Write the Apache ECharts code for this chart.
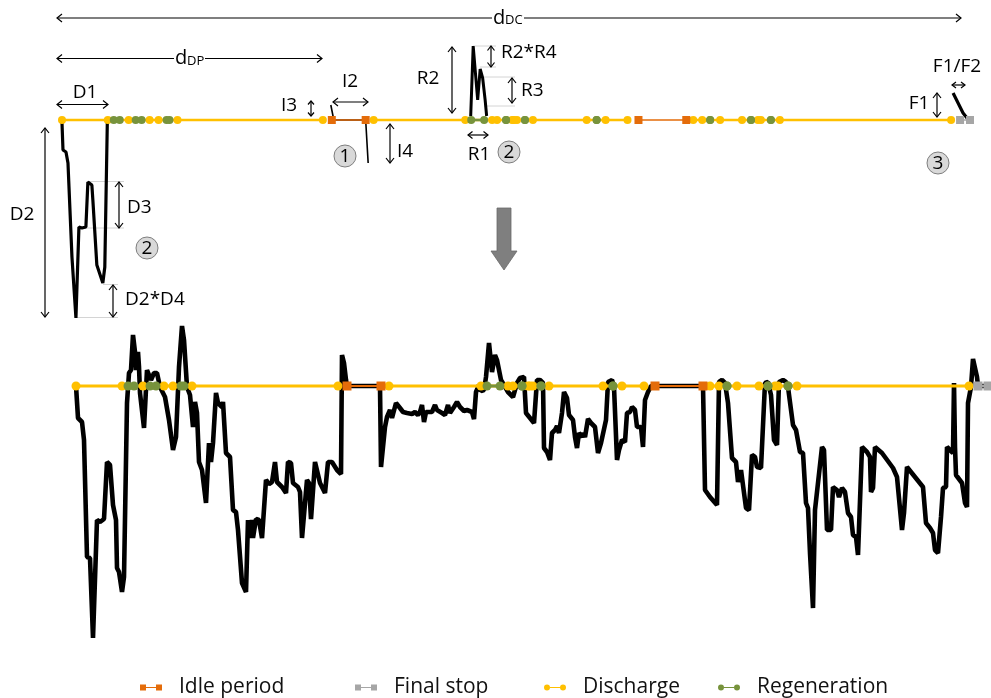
<!DOCTYPE html>
<html>
<head>
<meta charset="utf-8">
<script src="https://cdn.jsdelivr.net/npm/echarts@6/dist/echarts.min.js"></script>
<style>
  html, body { margin: 0; padding: 0; background: #fff; }
  #chart { width: 991px; height: 698px; }
</style>
</head>
<body>
<div id="chart"></div>
<script>
// ---- Drive-cycle phases on the shared time axis (time steps) ----
const dischargePoints = [0, 46, 67, 88, 97, 116, 262, 313, 405, 432, 437, 452, 454, 457, 473,
  527, 546, 568, 634, 643, 661, 683, 699, 702, 721, 893];
const regenerationSegments = [[52, 58], [74, 80], [105, 108], [411, 424], [446, 446], [465, 465],
  [537, 537], [651, 651], [692, 692], [712, 712]];
const idleSegments = [[271, 305], [579, 627]];
const finalStopSegments = [[902, 912]];

// ---- Schematic shapes of each phase type (upper panel) ----
const schemeDischarge = [[0, 0], [0, -3], [1, -30], [4, -32], [6, -43], [10, -137], [11, -137],
  [14, -198], [17, -107], [20, -108], [24, -107], [26, -62], [30, -65], [31, -80], [35, -145],
  [37, -147], [41, -163], [43, -147], [45.5, -3], [46, 0]];
const schemeIdle = [[270, 15], [273, 0], [305, 0], [307.5, -43]];
const schemeRegeneration = [[410.5, 4], [413, 74], [417.5, 20], [420, 51], [422.5, 42], [425, 20], [426.5, 4]];
const schemeFinalStop = [[895, 27], [905, 7], [909, 2], [912, 0]];

// ---- Measured current profile (lower panel) ----
const currentProfile = [
  [0, 0], [2, -32], [6, -36], [8, -54], [11, -171], [14, -172], [17, -252], [21, -134], [24, -136],
  [28, -133], [31, -76], [34, -79], [37, -119], [40, -134], [41, -182], [43, -186], [46, -206],
  [48, -191], [51, -17], [53, 13], [55, 16], [57, 51], [59, 34], [60, 16], [62, 34], [63, 19],
  [64, -7], [68, -42], [71, 16], [73, 17], [75, 6], [78, 13], [81, 13], [84, -1], [89, -11],
  [93, -34], [97, -64], [100, -51], [103, 19], [106, 60], [108, 46], [111, -1], [114, -9],
  [117, -41], [119, -16], [121, -27], [123, -76], [126, -84], [128, -86], [130, -117], [133, -57],
  [135, -76], [137, -57], [140, -7], [142, -17], [146, -21], [147, -16], [150, -67], [152, -67],
  [154, -71], [157, -124], [160, -126], [162, -144], [164, -146], [166, -197], [170, -206],
  [172, -134], [174, -152], [176, -134], [177, -152], [180, -133], [183, -134], [186, -152],
  [190, -94], [193, -98], [196, -96], [199, -76], [201, -96], [206, -101], [210, -107], [212, -76],
  [215, -77], [217, -97], [222, -101], [224, -106], [226, -152], [231, -94], [233, -97], [235, -133],
  [237, -135], [239, -76], [241, -77], [244, -97], [249, -107], [252, -76], [256, -76], [261, -84],
  [265, -88], [266, 31], [268, 23], [270, 6], [271, 0], [304, 0], [305, -81], [309, -41], [311, -31],
  [314, -24], [316, -32], [320, -17], [324, -22], [327, -26], [331, -27], [333, -26], [336, -28],
  [339, -26], [342, -29], [344, -26], [346, -19], [348, -36], [350, -26], [356, -26], [359, -19],
  [361, -24], [366, -27], [369, -29], [372, -19], [374, -27], [378, -21], [381, -16], [384, -21],
  [388, -25], [391, -24], [393, -22], [396, -26], [398, -33], [400, -6], [403, 1], [405, -5],
  [408, -4], [410, 9], [413, 43], [416, 14], [419, 31], [421, 26], [425, 6], [428, 1], [432, -6],
  [437, -11], [441, 3], [444, 8], [448, 9], [450, -27], [454, -32], [458, -37], [461, 6], [464, 6],
  [467, 3], [468, -62], [471, -66], [474, -74], [476, -47], [479, -44], [481, -40], [483, -47],
  [486, -27], [488, -6], [491, -12], [493, -29], [497, -34], [499, -51], [501, -62], [503, -47],
  [506, -51], [507, -47], [509, -51], [512, -33], [515, -37], [519, -41], [522, -67], [525, -57],
  [527, -57], [530, -34], [532, 4], [536, 6], [538, -1], [541, -74], [543, -64], [546, -54],
  [549, -56], [551, -27], [554, -26], [556, -21], [559, -24], [561, -41], [565, -41], [567, -61],
  [569, -14], [572, -6], [575, 0], [627, 0], [629, -104], [634, -111], [641, -119], [643, 4],
  [646, 6], [649, 3], [652, -17], [656, -72], [660, -76], [662, -96], [665, -84], [667, -86],
  [670, -122], [673, -124], [676, -69], [679, -71], [681, -81], [685, -82], [689, 3], [692, 4],
  [695, -9], [698, -54], [701, -59], [703, 4], [707, 6], [710, 4], [712, -1], [717, -39], [720, -44],
  [724, -66], [727, -67], [730, -117], [732, -122], [734, -167], [737, -222], [739, -124],
  [741, -122], [746, -61], [748, -64], [751, -144], [755, -144], [757, -101], [761, -104],
  [763, -111], [766, -102], [769, -106], [772, -127], [775, -131], [777, -149], [780, -151],
  [782, -169], [786, -61], [791, -66], [794, -71], [795, -106], [797, -102], [799, -61], [806, -67],
  [817, -82], [821, -91], [826, -144], [828, -127], [831, -81], [839, -91], [847, -101], [850, -137],
  [854, -142], [857, -147], [859, -164], [862, -167], [865, -131], [867, -102], [870, -101],
  [871, -61], [877, -67], [878, 3], [879, -61], [880, -89], [886, -97], [889, -117], [891, -121],
  [892, -17], [895, -1], [897, 27], [901, 9], [902, 0], [912, 0]
];

const legendNames = ['Idle period', 'Final stop', 'Discharge', 'Regeneration'];

const COLORS = {
  discharge: '#FFC000',
  regeneration: '#77933C',
  idle: '#E46C0A',
  stop: '#A6A6A6',
  profile: '#000000'
};
const FONT = 'Open Sans';

// Discharge runs as one line, broken only where an idle period or the final stop sits between two points
function dischargeData() {
  const gaps = idleSegments.concat(finalStopSegments);
  const out = [];
  dischargePoints.forEach((p, i) => {
    if (i > 0) {
      const prev = dischargePoints[i - 1];
      if (gaps.some(g => g[0] > prev && g[1] < p)) out.push([(prev + p) / 2, '-']);
    }
    out.push([p, 0]);
  });
  return out;
}
// Separate segments, each drawn with markers at its start and end
function segmentData(segs) {
  const out = [];
  segs.forEach((s, i) => {
    if (i > 0) out.push([(segs[i - 1][1] + s[0]) / 2, '-']);
    out.push([s[0], 0], [s[1], 0]);
  });
  return out;
}

function phaseSeries(gridIdx, size, lw) {
  const base = { type: 'line', xAxisIndex: gridIdx, yAxisIndex: gridIdx, showSymbol: true,
    symbolSize: size, connectNulls: false, animation: false, clip: false };
  return [
    Object.assign({}, base, { name: 'Discharge', data: dischargeData(), symbol: 'circle',
      itemStyle: { color: COLORS.discharge }, lineStyle: { color: COLORS.discharge, width: lw } }),
    Object.assign({}, base, { name: 'Regeneration', data: segmentData(regenerationSegments), symbol: 'circle',
      itemStyle: { color: COLORS.regeneration }, lineStyle: { color: COLORS.regeneration, width: lw } }),
    Object.assign({}, base, { name: 'Idle period', data: segmentData(idleSegments), symbol: 'rect',
      itemStyle: { color: COLORS.idle }, lineStyle: { color: COLORS.idle, width: lw - 1 } }),
    Object.assign({}, base, { name: 'Final stop', data: segmentData(finalStopSegments), symbol: 'rect',
      itemStyle: { color: COLORS.stop }, lineStyle: { color: COLORS.stop, width: lw - 1 } })
  ];
}

function shapeSeries(data, lw) {
  return { type: 'line', xAxisIndex: 0, yAxisIndex: 0, data: data, showSymbol: false, symbol: 'none',
    lineStyle: { color: COLORS.profile, width: lw }, animation: false, clip: false, silent: true };
}

// ---- Annotation drawing helpers (dimension arrows, labels, badges) ----
const G = [];
function seg(x1, y1, x2, y2, color, w) {
  G.push({ type: 'line', silent: true, shape: { x1, y1, x2, y2 },
    style: { stroke: color || '#000', lineWidth: w || 1.2 } });
}
function head(x, y, dx, dy, L, W) {
  L = L || 5; W = W || 4;
  const nx = -dy, ny = dx;
  G.push({ type: 'polyline', silent: true,
    shape: { points: [[x - dx * L + nx * W, y - dy * L + ny * W], [x, y], [x - dx * L - nx * W, y - dy * L - ny * W]] },
    style: { stroke: '#000', lineWidth: 1.2, fill: null } });
}
function hArrow(x1, x2, y, L, W) { seg(x1, y, x2, y); head(x1, y, -1, 0, L, W); head(x2, y, 1, 0, L, W); }
function vArrow(x, y1, y2, L, W) { seg(x, y1, x, y2); head(x, y1, 0, -1, L, W); head(x, y2, 0, 1, L, W); }
function label(text, x, y, align, size) {
  G.push({ type: 'text', silent: true, x: x, y: y,
    style: { text: text, fontFamily: FONT, fontSize: size || 19, fill: '#000',
      align: align || 'center', verticalAlign: 'middle' } });
}
function badge(n, x, y) {
  G.push({ type: 'circle', silent: true, shape: { cx: x, cy: y, r: 11 },
    style: { fill: '#D9D9D9', stroke: '#7F7F7F', lineWidth: 1 } });
  label(n, x, y + 0.5);
}
function guide(x1, x2, y) { seg(x1, y, x2, y, '#C9C9C9', 0.8); }
function distanceLabel(main, sub, x, y, w) {
  G.push({ type: 'rect', silent: true, shape: { x: x - 1, y: y - 9, width: w, height: 17 }, style: { fill: '#fff' } });
  label(main, x, y, 'left', 20);
  label(sub, x + 12, y + 2.5, 'left', 13);
}

// extension lines
guide(88, 124, 181.5); guide(85, 124, 228);
guide(103, 118, 284.5); guide(76, 118, 317.5);
guide(473, 496, 46); guide(480, 496, 67);
guide(481, 515, 77); guide(484, 515, 106);

// distances
hArrow(57, 961, 18); distanceLabel('d', 'DC', 493, 18, 32);
hArrow(57, 322, 58.5); distanceLabel('d', 'DP', 175, 58.5, 31);

// discharge
hArrow(57, 108, 104.5); label('D1', 85, 93);
vArrow(45, 128, 317); label('D2', 22, 215);
vArrow(119, 182, 228); label('D3', 127, 208, 'left');
vArrow(113, 285, 317); label('D2*D4', 125, 300, 'left');
badge('2', 147, 248);

// idle
vArrow(311, 101, 116, 3.5, 3); label('I3', 289, 106);
hArrow(333, 368, 102); label('I2', 350, 82);
vArrow(390, 124, 163); label('I4', 397, 152, 'left');
badge('1', 345, 156);

// regeneration
vArrow(452, 47, 113); label('R2', 428, 79);
vArrow(491, 46, 67, 4.5, 3.5); label('R2*R4', 501, 53, 'left');
vArrow(512, 78, 103); label('R3', 521, 91, 'left');
hArrow(468, 488, 135, 4.5, 3.5); label('R1', 479, 155);
badge('2', 509, 152);

// final stop
label('F1/F2', 957, 67); hArrow(952, 965, 85, 4, 3);
vArrow(937, 93, 117); label('F1', 919, 104);
badge('3', 938, 163);

// transition arrow between schematic and measured profile
G.push({ type: 'polygon', silent: true,
  shape: { points: [[497, 208], [511, 208], [511, 251], [517, 251], [504, 270], [491, 251], [497, 251]] },
  style: { fill: '#7F7F7F', stroke: '#6A6A6A', lineWidth: 0.8 } });

const squareIcon = 'path://M0,0h6v6h-6zM6,2.4h10v1.2h-10zM16,0h6v6h-6z';
const circleIcon = 'path://M0,3a3,3,0,1,0,6,0a3,3,0,1,0,-6,0zM6,2.4h10v1.2h-10zM16,3a3,3,0,1,0,6,0a3,3,0,1,0,-6,0z';
const legendIcons = [squareIcon, squareIcon, circleIcon, circleIcon];
const legendLefts = [140, 355, 544, 718];

// one legend entry per component so each sits at its own place in the row
const legends = legendNames.map((name, i) => ({
  left: legendLefts[i], top: 677, itemWidth: 22, itemHeight: 6, padding: 0,
  textStyle: { fontFamily: FONT, fontSize: 21, color: '#111', padding: [0, 0, 0, 12] },
  data: [{ name: name, icon: legendIcons[i] }]
}));

const hiddenAxis = { show: false, splitLine: { show: false } };

const option = {
  backgroundColor: '#fff',
  animation: false,
  grid: [
    { left: 62, top: 40, width: 911, height: 285 },
    { left: 76, top: 320, width: 915, height: 326 }
  ],
  xAxis: [
    Object.assign({ type: 'value', gridIndex: 0, min: 0, max: 915 }, hiddenAxis),
    Object.assign({ type: 'value', gridIndex: 1, min: 0, max: 915 }, hiddenAxis)
  ],
  yAxis: [
    Object.assign({ type: 'value', gridIndex: 0, min: -205, max: 80 }, hiddenAxis),
    Object.assign({ type: 'value', gridIndex: 1, min: -260, max: 66 }, hiddenAxis)
  ],
  legend: legends,
  series: [
    shapeSeries(schemeDischarge, 3.2),
    shapeSeries(schemeIdle, 1.6),
    shapeSeries(schemeRegeneration, 3),
    shapeSeries(schemeFinalStop, 3.2)
  ].concat(phaseSeries(0, 8, 2.5)).concat([
    { type: 'line', xAxisIndex: 1, yAxisIndex: 1, data: currentProfile, showSymbol: false, symbol: 'none',
      lineStyle: { color: COLORS.profile, width: 4.6 }, animation: false, silent: true }
  ]).concat(phaseSeries(1, 9, 3)),
  graphic: G
};

const chart = echarts.init(document.getElementById('chart'), null, { renderer: 'canvas' });
chart.setOption(option);
</script>
</body>
</html>
